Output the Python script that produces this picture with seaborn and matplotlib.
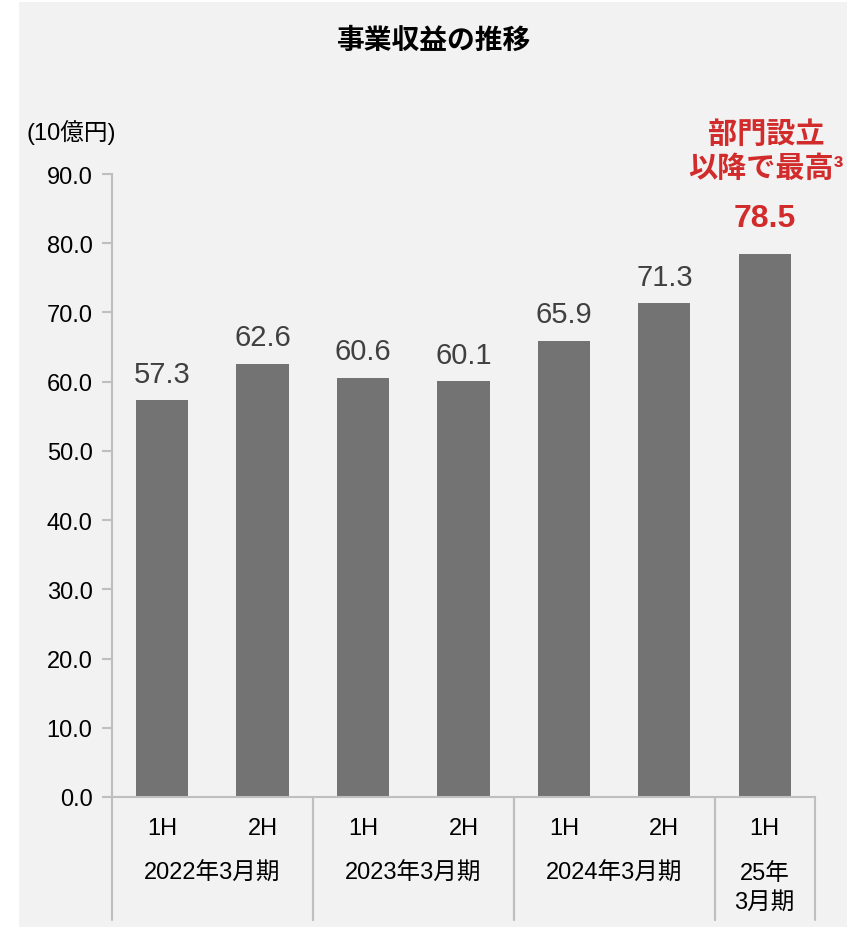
import seaborn as sns
import matplotlib
matplotlib.use('Agg')
import matplotlib.pyplot as plt
import matplotlib.transforms as mtransforms
from matplotlib.patches import Rectangle
import pandas as pd

# Data.
halves = ["1H", "2H", "1H", "2H", "1H", "2H", "1H"]
fiscal_years = ["2022年3月期", "2022年3月期", "2023年3月期", "2023年3月期",
                "2024年3月期", "2024年3月期", "25年\n3月期"]
revenue = [57.3, 62.6, 60.6, 60.1, 65.9, 71.3, 78.5]
y_ticks = [0, 10, 20, 30, 40, 50, 60, 70, 80, 90]

bg = "#F2F2F2"
bar_color = "#737373"
line_color = "#BFBFBF"
red = "#D22B2B"

sns.set_style("white")
plt.rcParams['font.family'] = ['Liberation Sans', 'Noto Sans CJK JP', 'DejaVu Sans']
plt.rcParams['text.color'] = "black"

df = pd.DataFrame({"pos": list(range(len(revenue))), "revenue": revenue})

fig = plt.figure(figsize=(8.54, 9.28), dpi=100, facecolor="white")
# Light gray panel behind the chart.
fig.patches.append(Rectangle((0.0222, 0.0), 0.9696, 0.9968, transform=fig.transFigure,
                             facecolor=bg, edgecolor="none", zorder=-1))

ax = fig.add_axes([0.1311, 0.1401, 0.8232, 0.6713])
ax.set_facecolor(bg)
ax.patch.set_alpha(0)

sns.barplot(data=df, x="pos", y="revenue", color=bar_color, width=0.52,
            saturation=1, linewidth=0, ax=ax)

ax.set_ylim(0, 90)
ax.set_xlim(-0.5, len(revenue) - 0.5)
ax.set_yticks(y_ticks)
ax.set_yticklabels(["{:.1f}".format(v) for v in y_ticks], fontsize=17, color="black")
ax.tick_params(axis='y', left=True, length=7, width=1.5, color=line_color, pad=7)
ax.set_xticks([])
ax.set_xlabel("")
ax.set_ylabel("")

for side in ["top", "right"]:
    ax.spines[side].set_visible(False)
for side in ["left", "bottom"]:
    ax.spines[side].set_color(line_color)
    ax.spines[side].set_linewidth(1.5)

# Value labels.
for i, v in enumerate(revenue):
    if i == len(revenue) - 1:
        ax.text(i, v + 3.0, "{:.1f}".format(v), ha="center", va="bottom",
                fontsize=23, fontweight="bold", color=red)
    else:
        ax.text(i, v + 1.8, "{:.1f}".format(v), ha="center", va="bottom",
                fontsize=21, color="#404040")

# Category axis: halves and fiscal year groups.
trans = mtransforms.blended_transform_factory(ax.transData, ax.transAxes)
for i, h in enumerate(halves):
    ax.text(i, -0.05, h, transform=trans, ha="center", va="center", fontsize=17)

groups = []
for i, fy in enumerate(fiscal_years):
    if groups and groups[-1][0] == fy:
        groups[-1][2] = i
    else:
        groups.append([fy, i, i])

for fy, start, end in groups:
    center = (start + end) / 2
    ax.text(center, -0.104, fy, transform=trans, ha="center", va="top",
            fontsize=17, linespacing=1.42)
    for x in (start - 0.5, end + 0.5):
        ax.plot([x, x], [0, -0.197], transform=trans, color=line_color,
                lw=1.5, clip_on=False)

# Unit, title and annotation.
fig.text(0.031, 0.857, "(10億円)", ha="left", va="center", fontsize=17)
fig.text(0.508, 0.955, "事業収益の推移", ha="center", va="center",
         fontsize=20, fontweight="bold")
fig.text(0.897, 0.836, "部門設立\n以降で最高³", ha="center", va="center",
         fontsize=21, fontweight="bold", color=red, linespacing=1.27)

fig.savefig("out.png", dpi=100, facecolor="white")
plt.close()
